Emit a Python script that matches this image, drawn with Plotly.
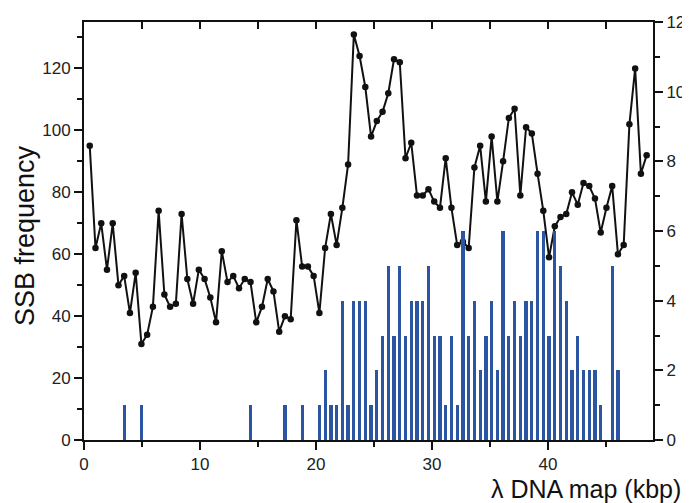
import plotly.graph_objects as go

# Lambda DNA (48.502 kbp) split into 98 bins
GENOME_KBP = 48.502
N_BINS = 98
bin_index = list(range(1, N_BINS + 1))
bin_kbp = [i * GENOME_KBP / N_BINS for i in bin_index]

# SSB frequency per bin (left axis, black line with dots)
ssb_frequency = [
    95, 62, 70, 55, 70, 50, 53, 41, 54, 31,
    34, 43, 74, 47, 43, 44, 73, 52, 44, 55,
    52, 46, 38, 61, 51, 53, 49, 52, 51, 38,
    43, 52, 48, 35, 40, 39, 71, 56, 56, 53,
    41, 62, 73, 63, 75, 89, 131, 124, 114, 98,
    103, 106, 112, 123, 122, 91, 96, 79, 79, 81,
    77, 75, 91, 75, 63, 64, 62, 88, 95, 77,
    98, 77, 90, 104, 107, 79, 101, 99, 86, 74,
    59, 69, 72, 73, 80, 76, 83, 82, 78, 67,
    75, 82, 60, 63, 102, 120, 86, 92,
]

# Counts per bin (right axis, blue bars)
bar_counts = [
    0, 0, 0, 0, 0, 0, 1, 0, 0, 1,
    0, 0, 0, 0, 0, 0, 0, 0, 0, 0,
    0, 0, 0, 0, 0, 0, 0, 0, 1, 0,
    0, 0, 0, 0, 1, 0, 0, 1, 0, 0,
    1, 2, 1, 1, 4, 1, 4, 4, 4, 1,
    2, 3, 5, 3, 5, 3, 4, 4, 4, 5,
    3, 3, 1, 3, 1, 6, 3, 4, 2, 3,
    4, 2, 6, 3, 4, 3, 4, 4, 6, 6,
    3, 6, 5, 4, 2, 3, 2, 2, 2, 1,
    0, 5, 2, 0, 0, 0, 0, 0,
]

x_ticks = [0, 10, 20, 30, 40]
y_ticks = [0, 20, 40, 60, 80, 100, 120]
y2_ticks = [0, 2, 4, 6, 8, 10, 12]
top_ticks = [5, 10, 15, 20, 25, 30, 35, 40, 45]

FONT = "Liberation Sans, Arial, sans-serif"
X_RANGE = [0, 49.05]

fig = go.Figure()
fig.add_trace(go.Scatter(
    x=bin_kbp, y=ssb_frequency, mode="lines+markers",
    line=dict(color="#111111", width=2),
    marker=dict(color="#111111", size=6.5),
    yaxis="y", xaxis="x", showlegend=False,
))
fig.add_trace(go.Bar(
    x=bin_kbp, y=bar_counts, width=0.28,
    marker=dict(color="#2B55A3", line=dict(width=0)),
    yaxis="y2", xaxis="x", showlegend=False,
))
# empty trace to anchor the top (frame) axis
fig.add_trace(go.Scatter(x=[], y=[], xaxis="x2", yaxis="y", showlegend=False))

axis_common = dict(
    showline=True, linecolor="#111111", linewidth=2,
    ticks="outside", ticklen=8, tickwidth=2, tickcolor="#111111",
    showgrid=False, zeroline=False, automargin=False,
    tickfont=dict(family=FONT, size=17, color="#222222"),
)

# page body has an 8px margin, so the figure is sized to fit the window
fig.update_layout(
    width=682, height=495,
    margin=dict(l=76, r=37, t=14, b=63),
    paper_bgcolor="white", plot_bgcolor="white",
    bargap=0,
    xaxis=dict(
        range=X_RANGE, tickvals=x_ticks,
        minor=dict(dtick=5, tick0=0, ticklen=5, tickwidth=2, ticks="outside", tickcolor="#111111"),
        **axis_common,
    ),
    xaxis2=dict(
        range=X_RANGE, overlaying="x", side="top", anchor="y",
        showline=True, linecolor="#111111", linewidth=2,
        ticks="inside", ticklen=7, tickwidth=2, tickcolor="#111111",
        tickvals=top_ticks, showticklabels=False, showgrid=False, zeroline=False,
    ),
    yaxis=dict(
        range=[0, 135], tickvals=y_ticks,
        minor=dict(dtick=10, tick0=0, ticklen=5, tickwidth=2, ticks="outside", tickcolor="#111111"),
        **axis_common,
    ),
    yaxis2=dict(
        range=[0, 12], tickvals=y2_ticks, overlaying="y", side="right", anchor="x",
        minor=dict(dtick=1, tick0=0, ticklen=5, tickwidth=2, ticks="outside", tickcolor="#111111"),
        **axis_common,
    ),
    annotations=[
        dict(text="λ DNA map (kbp)", xref="paper", yref="paper",
             x=1.053, y=-0.117, xanchor="right", yanchor="middle", showarrow=False,
             font=dict(family=FONT, size=25, color="#111111")),
        dict(text="SSB frequency", xref="paper", yref="paper",
             x=-0.104, y=0.49, xanchor="center", yanchor="middle", showarrow=False,
             textangle=-90, font=dict(family=FONT, size=27, color="#111111")),
    ],
)

fig.write_html("out.html")
